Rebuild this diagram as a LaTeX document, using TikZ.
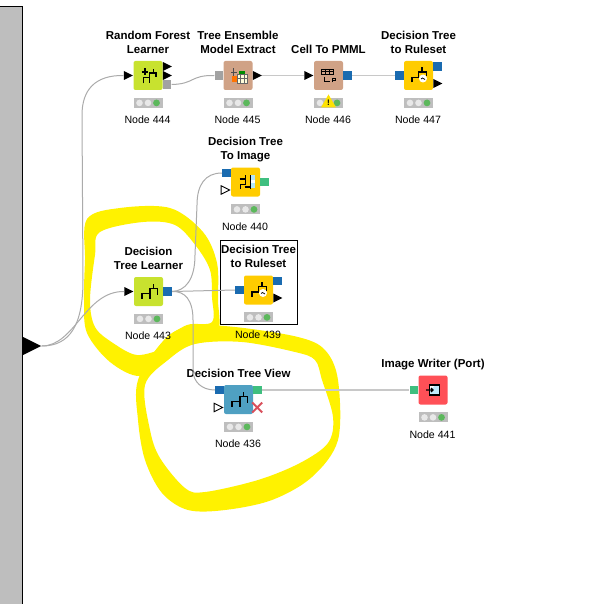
\documentclass[tikz,border=0pt]{standalone}
\usepackage{fontspec}
\setmainfont{Liberation Sans}
\usepackage{xcolor}
\usetikzlibrary{positioning,calc,shapes.geometric,shapes.misc}
\definecolor{learnergreen}{HTML}{C8E22F}
\definecolor{maniptan}{HTML}{D0A286}
\definecolor{predyellow}{HTML}{FFCC00}
\definecolor{viewblue}{HTML}{4FA0C2}
\definecolor{writerred}{HTML}{FF5057}
\definecolor{portblue}{HTML}{1A6BB0}
\definecolor{portgreen}{HTML}{3FBF7F}
\definecolor{portgray}{HTML}{A2A2A2}
\definecolor{linkgray}{HTML}{ABABAB}
\definecolor{wiregray}{HTML}{C8C8C8}
\definecolor{panelgray}{HTML}{BEBEBE}
\definecolor{lampgreen}{HTML}{5CB85C}
\definecolor{lampoff}{HTML}{E8E8E8}
\definecolor{crossred}{HTML}{D9505C}

\begin{document}
\begin{tikzpicture}[x=1pt,y=-1pt,node distance=7.5pt,
 box/.style={rectangle,rounded corners=2pt,minimum size=29pt,inner sep=0pt},
 portsq/.style={rectangle,minimum width=8.5pt,minimum height=8.5pt,inner sep=0pt},
 tri/.style={isosceles triangle,isosceles triangle stretches,minimum width=9pt,minimum height=9pt,inner sep=0pt,fill=black},
 opentri/.style={tri,fill=white,draw=black,line width=.9pt,minimum width=8.5pt,minimum height=8.5pt},
 title/.style={font=\bfseries\fontsize{11.5}{14}\selectfont,align=center,inner sep=0pt,text depth=0pt},
 caption/.style={font=\fontsize{10.6}{12}\selectfont,inner sep=0pt,text depth=0pt,xshift=-.5pt},
 lights/.style={rectangle,fill=panelgray,minimum width=29pt,minimum height=10pt,inner sep=0pt,
  path picture={\begin{scope}[shift={(path picture bounding box.center)}]
   \fill[lampoff] (-8.5,0) circle (3.3pt) (0,0) circle (3.3pt);
   \fill[lampgreen] (8.5,0) circle (3.4pt);
  \end{scope}}},
 treeicon/.style={path picture={\draw[sharp corners,line width=1.6pt,shift={(path picture bounding box.center)}]
   (-6.7,7)--(-6.7,2)--(1.7,2)--(1.7,7) (1.7,2)--(1.7,-3)--(9,-3)--(9,3.5) (5,-3)--(5,-8);}},
 rulesicon/.style={path picture={\begin{scope}[sharp corners,shift={(path picture bounding box.center)}]
   \draw[line width=1.6pt] (-6.7,7)--(-6.7,2)--(0,2)--(0,-3.5)--(8,-3.5)--(8,1) (3.5,-3.5)--(3.5,-8);
   \fill[white] (4.5,3) circle (4pt);
   \draw[line width=.7pt] (2.5,3.5)--(4,2.5)--(6.5,4);
  \end{scope}}},
 foresticon/.style={path picture={\draw[sharp corners,line width=1.5pt,shift={(path picture bounding box.center)}]
   (-4.7,8)--(-4.7,2)--(1.3,2)--(1.3,8) (1.3,2)--(1.3,-2.7)--(8,-2.7)--(8,1.3) (5.3,-2.7)--(5.3,-6.3)
   (-3,-7)--(-3,0) (-6.3,-3.7)--(0,-3.7);}},
 extracticon/.style={path picture={\begin{scope}[sharp corners,shift={(path picture bounding box.center)}]
   \draw[black!70,line width=1pt] (-4.5,-7)--(-4.5,6) (-7,-3)--(-1,-3);
   \fill[orange!90!red] (-6.5,1) rectangle (-0.5,7);
   \fill[white!85!yellow] (-0.5,-1) rectangle (9,7.5);
   \fill[green!55!black] (1,-4) rectangle (7,-1);
   \draw[black!60,line width=.5pt] (-0.5,-1) rectangle (9,7.5) (2.5,-1)--(2.5,7.5) (6,-1)--(6,7.5) (-0.5,3)--(9,3);
  \end{scope}}},
 pmmlicon/.style={path picture={\begin{scope}[sharp corners,shift={(path picture bounding box.center)}]
   \draw[line width=.9pt] (-7.5,-6.5) rectangle (5,-1) (-7.5,-3.7)--(5,-3.7) (-3.3,-6.5)--(-3.3,-1) (0.8,-6.5)--(0.8,-1);
   \draw[line width=.9pt] (-4.5,2)--(-4.5,5.5)--(1.5,5.5);
   \draw[line width=.8pt] (4,7)--(4,3)--(6.5,3)--(6.5,5)--(4,5);
  \end{scope}}},
 imageicon/.style={path picture={\begin{scope}[sharp corners,shift={(path picture bounding box.center)}]
   \draw[line width=1.4pt] (-6,-3)--(0,-3) (0,-7)--(0,2) (-5,7)--(-5,2.5)--(0,2.5) (-1,5)--(4,5);
   \fill[cyan!30] (5,-7) rectangle (9,6);
   \fill[white] (5,-2) rectangle (9,1);
   \draw[line width=.9pt] (4.5,-7)--(4.5,6.5);
  \end{scope}}},
 writericon/.style={path picture={\begin{scope}[sharp corners,shift={(path picture bounding box.center)}]
   \fill[cyan!25] (-3.7,-5) rectangle (6.3,5);
   \fill[white] (-3.7,-5)--(2.3,-5)--(-3.7,1)--cycle;
   \draw[line width=1.1pt] (-3.7,-5) rectangle (6.3,5);
   \draw[line width=1.3pt] (-7,0)--(0,0) (-2,-2)--(0,0)--(-2,2);
  \end{scope}}},
 link/.style={draw=linkgray,line width=1pt},
 wire/.style={draw=wiregray,line width=1.6pt},
 scribble/.style={fill=yellow,even odd rule}]
\useasboundingbox (0,0) rectangle (600,604);

% highlighter marks
\fill[scribble] plot[smooth cycle,tension=.55] coordinates {(87,219) (120,208) (170,208) (203,232) (217,263) (218,300) (218,330) (195,340) (168,358) (140,376) (110,362) (87,333) (84,300) (85,260)}
 plot[smooth cycle,tension=.55] coordinates {(100,232) (143,222) (175,225) (196,246) (210,270) (212,297) (212,322) (187,325) (164,340) (163,348) (137,355) (113,343) (95,327) (90,300) (95,255)};
\fill[scribble] plot[smooth cycle,tension=.55] coordinates {(164,340) (190,326) (235,327) (298,337) (325,350) (338,380) (338,440) (312,477) (272,500) (225,510) (188,510) (162,493) (145,460) (138,420) (138,380)}
 plot[smooth cycle,tension=.55] coordinates {(145,385) (168,360) (195,344) (242,342) (295,352) (315,360) (322,380) (333,417) (328,443) (300,463) (258,480) (205,492) (185,488) (160,458) (150,430)};

% side panel
\draw[fill=panelgray,line width=1pt] (-2,7) -| (22,606) -| cycle;
\node[isosceles triangle,isosceles triangle stretches,minimum width=18pt,minimum height=18pt,inner sep=0pt,fill=black,anchor=lower side] (wfin) at (23,346) {};

% nodes
\node[box,fill=learnergreen,foresticon] (n444) at (148,75.5) {};
\node[box,fill=maniptan,extracticon] (n445) at (238,75.5) {};
\node[box,fill=maniptan,pmmlicon] (n446) at (328.5,75.5) {};
\node[box,fill=predyellow,rulesicon] (n447) at (418.5,75.5) {};
\node[box,fill=predyellow,imageicon] (n440) at (245.5,182) {};
\node[box,fill=predyellow,rulesicon] (n439) at (258.5,290) {};
\node[box,fill=learnergreen,treeicon] (n443) at (148.5,291.5) {};
\node[box,fill=viewblue,treeicon] (n436) at (238.5,399.5) {};
\node[box,fill=writerred,writericon] (n441) at (433,390) {};

\node[title,above=of n444] (t444) {Random Forest\\Learner};
\node[title,above=of n445] (t445) {Tree Ensemble\\Model Extract};
\node[title,above=of n446] (t446) {Cell To PMML};
\node[title,above=of n447] (t447) {Decision Tree\\to Ruleset};
\node[title,above=of n440] (t440) {Decision Tree\\To Image};
\node[title,above=of n439] (t439) {Decision Tree\\to Ruleset};
\node[title,above=of n443] (t443) {Decision\\Tree Learner};
\node[title,above=of n436] (t436) {Decision Tree View};
\node[title,above=of n441] (t441) {Image Writer (Port)};

\foreach \n in {444,445,446,447,440,439,443,436,441} {
 \node[lights,below=7.5pt of n\n] (l\n) {};
 \node[caption,below=8pt of l\n] (c\n) {Node \n};
}

% ports
\node[tri,left=0pt of n444] (p444in) {};
\node[tri,right=0pt of n444,yshift=9pt] (p444a) {};
\node[tri,right=0pt of n444] (p444b) {};
\node[portsq,fill=portgray,right=0pt of n444,yshift=-9pt] (p444c) {};
\node[portsq,fill=portgray,left=0pt of n445] (p445in) {};
\node[tri,right=0pt of n445] (p445out) {};
\node[tri,left=0pt of n446] (p446in) {};
\node[portsq,fill=portblue,right=0pt of n446] (p446out) {};
\node[portsq,fill=portblue,left=0pt of n447] (p447in) {};
\node[portsq,fill=portblue,right=0pt of n447,yshift=9pt] (p447a) {};
\node[tri,right=0pt of n447,yshift=-8pt] (p447b) {};
\node[portsq,fill=portblue,left=0pt of n440,yshift=9pt] (p440in) {};
\node[opentri,left=0pt of n440,yshift=-8pt] (p440b) {};
\node[portsq,fill=portgreen,right=0pt of n440] (p440out) {};
\node[portsq,fill=portblue,left=0pt of n439] (p439in) {};
\node[portsq,fill=portblue,right=0pt of n439,yshift=9pt] (p439a) {};
\node[tri,right=0pt of n439,yshift=-8pt] (p439b) {};
\node[tri,left=0pt of n443] (p443in) {};
\node[portsq,fill=portblue,right=0pt of n443] (p443out) {};
\node[portsq,fill=portblue,left=0pt of n436,yshift=9.5pt] (p436in) {};
\node[opentri,left=0pt of n436,yshift=-8pt] (p436b) {};
\node[portsq,fill=portgreen,right=0pt of n436,yshift=9.5pt] (p436out) {};
\node[cross out,draw=crossred,line width=2pt,minimum size=8pt,inner sep=0pt,right=-1pt of n436,yshift=-8pt] (p436x) {};
\node[portsq,fill=portgreen,left=0pt of n441] (p441in) {};

% warning sign on the status bar
\node[isosceles triangle,isosceles triangle stretches,shape border rotate=90,fill=yellow!85!orange,minimum width=15pt,minimum height=13pt,inner sep=0pt,font=\bfseries\fontsize{8}{8}\selectfont] (warn446) at (328.5,103) {!};

% selection frame
\node[draw,line width=1pt,minimum width=77pt,minimum height=84pt,inner sep=0pt] (frame439) at (258.5,282) {};

% connectors
\coordinate (up1) at (83,280);
\coordinate (up2) at (82,115);
\draw[link] (wfin.apex) .. controls (70,346) and (83,325) .. (up1) -- (up2) .. controls (82,90) and (95,75) .. (p444in.west);
\draw[link] (wfin.apex) .. controls (75,346) and (85,291) .. (p443in.west);
\draw[link] (p444c.east) .. controls (195,84) and (190,75) .. (p445in.west);
\draw[wire] (p445out.apex) -- (p446in.west);
\draw[wire] (p446out.east) -- (p447in.west);
\coordinate (up3) at (195,255);
\coordinate (up4) at (197,205);
\draw[link] (p443out.east) .. controls (185,291) and (195,280) .. (up3) -- (up4) .. controls (197,185) and (205,173) .. (p440in.west);
\draw[link] (p443out.east) -- (p439in.west);
\coordinate (dn1) at (193,320);
\coordinate (dn2) at (193,370);
\draw[link] (p443out.east) .. controls (185,291) and (193,300) .. (dn1) -- (dn2) .. controls (193,382) and (202,390) .. (p436in.west);
\draw[wire] (p436out.east) -- (p441in.west);
\end{tikzpicture}
\end{document}
